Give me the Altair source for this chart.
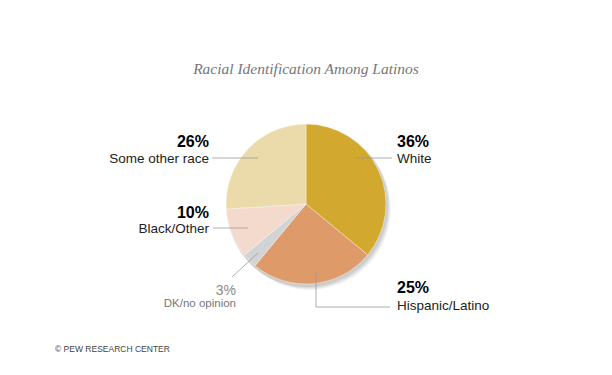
import altair as alt
import pandas as pd

# ---- data ----
categories = ["White", "Hispanic/Latino", "DK/no opinion", "Black/Other", "Some other race"]
values = [36, 25, 3, 10, 26]
pct_labels = ["36%", "25%", "3%", "10%", "26%"]
colors = ["#D3A82F", "#DF9A6A", "#D2D3D4", "#F4DACD", "#ECDBAA"]

title_text = "Racial Identification Among Latinos"
footer_text = "\u00a9 PEW RESEARCH CENTER"

# ---- layout (chart pixel coordinates) ----
CX, CY, R = 298, 196, 80
W, H = 596, 359

pie_df = pd.DataFrame({
    "category": categories,
    "value": values,
    "order": list(range(len(categories))),
})

# label placement per category: (x, pct_baseline, label_baseline, align)
label_pos = {
    "White": (389, 139, 155, "left"),
    "Hispanic/Latino": (389, 285, 302, "left"),
    "DK/no opinion": (228, 287, 299, "right"),
    "Black/Other": (201, 210, 225, "right"),
    "Some other race": (201, 139, 155, "right"),
}

leaders = [
    (349, 150, 384, 150),
    (308, 263, 308, 299),
    (308, 299, 382, 299),
    (250, 245, 224, 269),
    (205, 220, 240, 220),
    (204, 150, 250, 150),
]

rows = []
for cat, pct in zip(categories, pct_labels):
    x, yp, yl, al = label_pos[cat]
    rows.append({"category": cat, "pct": pct, "x": x, "yp": yp, "yl": yl, "align": al})
lab_df = pd.DataFrame(rows)
lead_df = pd.DataFrame(leaders, columns=["x", "y", "x2", "y2"])

px = lambda f: alt.X(f, scale=None, axis=None)
py = lambda f: alt.Y(f, scale=None, axis=None)

base_one = alt.Chart(pd.DataFrame({"a": [0]}))

# soft shadow
shadows = [
    base_one.mark_arc(theta=0, theta2=6.2832, outerRadius=R + 1, color="#000000", opacity=op)
    .encode(x=alt.value(CX + dx), y=alt.value(CY + dy))
    for dx, dy, op in [(1, 2, 0.06), (2, 3, 0.06), (3, 4, 0.05), (4, 5, 0.04)]
]

pie = alt.Chart(pie_df).mark_arc(outerRadius=R, stroke="#ffffff", strokeWidth=0.4).encode(
    theta=alt.Theta("value:Q", stack=True),
    order=alt.Order("order:Q"),
    color=alt.Color("category:N", scale=alt.Scale(domain=categories, range=colors), legend=None),
    x=alt.value(CX),
    y=alt.value(CY),
)

lead = alt.Chart(lead_df).mark_rule(color="#9a9a9a", strokeWidth=0.8).encode(
    x=px("x:Q"), y=py("y:Q"), x2="x2:Q", y2="y2:Q"
)

main_cats = [c for c in categories if c != "DK/no opinion"]
layers = []
for al in ["left", "right"]:
    sub = lab_df[(lab_df["align"] == al) & (lab_df["category"].isin(main_cats))]
    layers.append(
        alt.Chart(sub).mark_text(align=al, baseline="alphabetic", font="Liberation Sans",
                                 fontSize=16, fontWeight="bold", color="#000000")
        .encode(x=px("x:Q"), y=py("yp:Q"), text="pct:N")
    )
    layers.append(
        alt.Chart(sub).mark_text(align=al, baseline="alphabetic", font="Liberation Sans",
                                 fontSize=13.5, color="#222222")
        .encode(x=px("x:Q"), y=py("yl:Q"), text="category:N")
    )

dk = lab_df[lab_df["category"] == "DK/no opinion"]
layers.append(
    alt.Chart(dk).mark_text(align="right", baseline="alphabetic", font="Liberation Sans",
                            fontSize=14, color="#8a8a8a")
    .encode(x=px("x:Q"), y=py("yp:Q"), text="pct:N")
)
layers.append(
    alt.Chart(dk).mark_text(align="right", baseline="alphabetic", font="Liberation Sans",
                            fontSize=11.5, color="#777777")
    .encode(x=px("x:Q"), y=py("yl:Q"), text="category:N")
)

title = alt.Chart(pd.DataFrame({"t": [title_text]})).mark_text(
    align="center", baseline="alphabetic", font="Liberation Serif", fontStyle="italic",
    fontSize=15.5, color="#777777"
).encode(x=alt.value(298), y=alt.value(66), text="t:N")

footer = alt.Chart(pd.DataFrame({"t": [footer_text]})).mark_text(
    align="left", baseline="alphabetic", font="Liberation Sans", fontSize=8.5, color="#444444"
).encode(x=alt.value(47), y=alt.value(344), text="t:N")

chart = alt.layer(*shadows, pie, lead, *layers, title, footer).properties(
    width=W, height=H, padding=0, background="#ffffff",
    autosize=alt.AutoSizeParams(type="none")
).configure_view(strokeWidth=0, stroke="transparent")

chart.save("out.html", embed_options={"renderer": "svg", "actions": False})
